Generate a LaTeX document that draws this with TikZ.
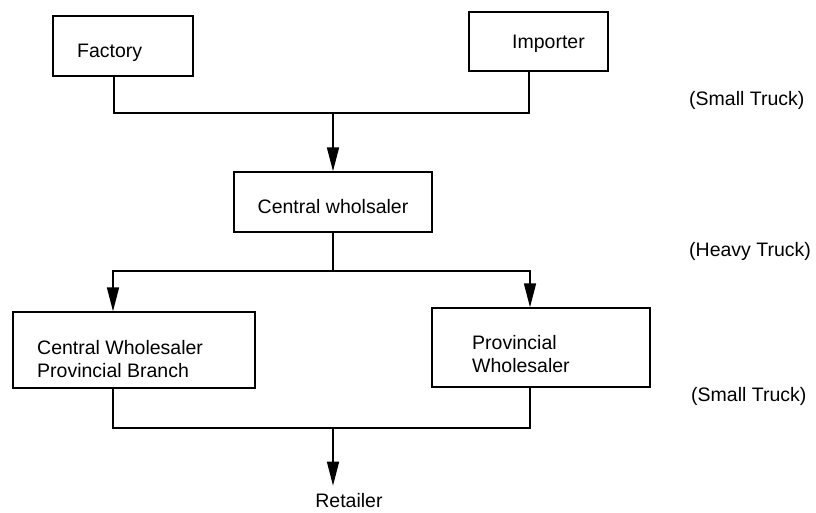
\documentclass[tikz,border=0pt]{standalone}
\usepackage{fontspec}
\setmainfont{Liberation Sans}
\usetikzlibrary{arrows.meta}
\begin{document}
\begin{tikzpicture}[x=1pt,y=-1pt,
  box/.style={draw, line width=1.4pt, inner sep=0pt},
  txt/.style={font=\fontsize{19.5}{23}\selectfont, inner sep=0pt},
  link/.style={line width=1.6pt},
  flow/.style={link, -{Triangle[length=24pt,width=12pt]}}]
\useasboundingbox (0,0) rectangle (816,512);

% supply chain boxes
\node[box, minimum width=140pt, minimum height=60pt] (factory)  at (123,46) {};
\node[box, minimum width=139pt, minimum height=59pt] (importer) at (538.5,41.5) {};
\node[box, minimum width=198pt, minimum height=60pt] (central)  at (333,202) {};
\node[box, minimum width=242pt, minimum height=76pt] (cwpb)     at (134,350) {};
\node[box, minimum width=218pt, minimum height=79pt] (pw)       at (541,347.5) {};

% box texts (two-line texts are placed by the baseline of their last line)
\node[txt, anchor=base west] (factoryT)  at (77,57)  {Factory};
\node[txt, anchor=base west] (importerT) at (512,48) {Importer};
\node[txt, anchor=base]      (centralT)  at (333,213) {Central wholsaler};
\node[txt, anchor=base west, align=left] (cwpbT) at (37,377) {Central Wholesaler\\Provincial Branch};
\node[txt, anchor=base west, align=left] (pwT)   at (472,372) {Provincial\\Wholesaler};
\node[txt, anchor=base, inner ysep=7pt] (retailer) at (349,507) {Retailer};

% transport labels
\node[txt, anchor=base west] (truck1) at (689,105) {(Small Truck)};
\node[txt, anchor=base west] (truck2) at (689,256) {(Heavy Truck)};
\node[txt, anchor=base west] (truck3) at (691,401) {(Small Truck)};

% junction points
\coordinate (j1) at (333,113);
\coordinate (j2) at (333,271);
\coordinate (j3) at (333,428);

% connectors
\draw[link] ([xshift=-9pt]factory.south) |- (j1) -| ([xshift=-9.5pt]importer.south);
\draw[flow] (j1) -- (central.north);
\draw[link] (central.south) -- (j2);
\draw[flow] (j2) -| ([xshift=-21pt]cwpb.north);
\draw[flow] (j2) -| ([xshift=-11pt]pw.north);
\draw[link] ([xshift=-21pt]cwpb.south) |- (j3) -| ([xshift=-11pt]pw.south);
\draw[flow] (j3) -- (j3 |- retailer.north);
\end{tikzpicture}
\end{document}
